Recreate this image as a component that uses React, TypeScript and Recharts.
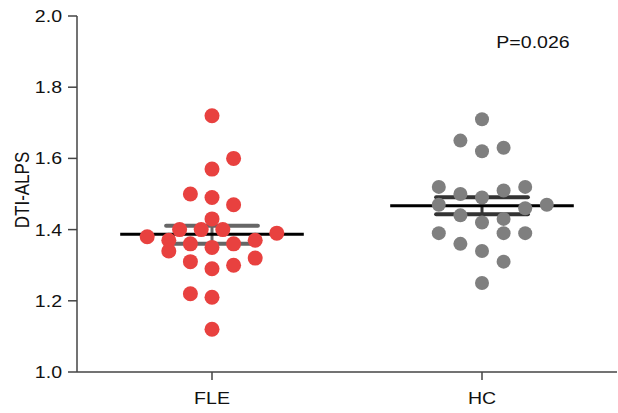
import {
  ScatterChart,
  Scatter,
  XAxis,
  YAxis,
  ReferenceLine,
  Customized,
} from "recharts";

// groups and tick labels
const groups = ["FLE", "HC"];
const yTicks = [1.0, 1.2, 1.4, 1.6, 1.8, 2.0];

// FLE: DTI-ALPS values and horizontal jitter (in category units)
const fleValues = [
  1.72, 1.6, 1.57, 1.5, 1.49, 1.47, 1.43, 1.4, 1.4, 1.4, 1.38, 1.39, 1.37,
  1.36, 1.35, 1.36, 1.37, 1.34, 1.31, 1.29, 1.3, 1.32, 1.22, 1.21, 1.12,
];
const fleJitter = [
  0, 0.08, 0, -0.08, 0, 0.08, 0, -0.12, -0.04, 0.04, -0.24, 0.24, -0.16,
  -0.08, 0, 0.08, 0.16, -0.16, -0.08, 0, 0.08, 0.16, -0.08, 0, 0,
];

// HC
const hcValues = [
  1.71, 1.65, 1.62, 1.63, 1.52, 1.5, 1.49, 1.51, 1.52, 1.47, 1.47, 1.46, 1.44,
  1.42, 1.43, 1.39, 1.39, 1.39, 1.36, 1.34, 1.31, 1.25,
];
const hcJitter = [
  0, -0.08, 0, 0.08, -0.16, -0.08, 0, 0.08, 0.16, -0.16, 0.24, 0.16, -0.08, 0,
  0.08, -0.16, 0.08, 0.16, -0.08, 0, 0.08, 0,
];

// mean and SEM bounds per group
const means = [1.387, 1.467];
const semLow = [1.36, 1.443];
const semHigh = [1.411, 1.491];
const pLabel = "P=0.026";

const fleData = fleValues.map((y, i) => ({ x: 1 + fleJitter[i], y }));
const hcData = hcValues.map((y, i) => ({ x: 2 + hcJitter[i], y }));

const font = "'Liberation Sans', Arial, Helvetica, sans-serif";
// the source figure is slightly stretched sideways
const stretch = 1.15;

const dot = (r: number, fill: string) => (p: any) =>
  <circle cx={p.cx} cy={p.cy} r={r} fill={fill} />;

const XTick = (p: any) => (
  <text
    transform={`translate(${p.x},${p.y + 22}) scale(${stretch},1)`}
    textAnchor="middle"
    fontSize={17}
    fontFamily={font}
    fill="#111"
  >
    {groups[Math.round(p.payload.value) - 1]}
  </text>
);

const YTick = (p: any) => (
  <text
    transform={`translate(${p.x - 4},${p.y + 6}) scale(${stretch},1)`}
    textAnchor="end"
    fontSize={17}
    fontFamily={font}
    fill="#111"
  >
    {p.payload.value.toFixed(1)}
  </text>
);

export default function App() {
  return (
    <div style={{ position: "absolute", left: 0, top: 0, background: "#fff" }}>
      <ScatterChart
        width={618}
        height={413}
        margin={{ top: 16, right: 1, bottom: 0, left: 0 }}
      >
        <XAxis
          type="number"
          dataKey="x"
          domain={[0.5, 2.5]}
          ticks={[1, 2]}
          height={41}
          tickSize={8}
          stroke="#444"
          strokeWidth={1.5}
          tick={<XTick />}
          allowDataOverflow
        />
        <YAxis
          type="number"
          dataKey="y"
          domain={[1, 2]}
          ticks={yTicks}
          width={77}
          tickSize={9}
          stroke="#444"
          strokeWidth={1.5}
          tick={<YTick />}
        />
        {groups.map((g, i) => (
          <ReferenceLine
            key={g + "hi"}
            segment={[
              { x: i + 1 - 0.17, y: semHigh[i] },
              { x: i + 1 + 0.17, y: semHigh[i] },
            ]}
            stroke={i === 0 ? "#666" : "#333"}
            strokeWidth={4}
            strokeLinecap="round"
            ifOverflow="visible"
          />
        ))}
        {groups.map((g, i) => (
          <ReferenceLine
            key={g + "lo"}
            segment={[
              { x: i + 1 - 0.17, y: semLow[i] },
              { x: i + 1 + 0.17, y: semLow[i] },
            ]}
            stroke={i === 0 ? "#666" : "#333"}
            strokeWidth={4}
            strokeLinecap="round"
            ifOverflow="visible"
          />
        ))}
        {groups.map((g, i) => (
          <ReferenceLine
            key={g + "stem"}
            segment={[
              { x: i + 1, y: semLow[i] },
              { x: i + 1, y: semHigh[i] },
            ]}
            stroke={i === 0 ? "#666" : "#333"}
            strokeWidth={3}
            ifOverflow="visible"
          />
        ))}
        <Scatter
          data={fleData}
          shape={dot(7.5, "#e8413f")}
          isAnimationActive={false}
        />
        <Scatter
          data={hcData}
          shape={dot(7, "#7f7f7f")}
          isAnimationActive={false}
        />
        {groups.map((g, i) => (
          <ReferenceLine
            key={g + "mean"}
            segment={[
              { x: i + 1 - 0.34, y: means[i] },
              { x: i + 1 + 0.34, y: means[i] },
            ]}
            stroke="#000"
            strokeWidth={3}
            ifOverflow="visible"
          />
        ))}
        <Customized
          component={() => (
            <g style={{ fontFamily: font }} fill="#111">
              <text
                transform="translate(22,190) rotate(-90) scale(1,1.15)"
                textAnchor="middle"
                dominantBaseline="central"
                fontSize={17}
              >
                DTI-ALPS
              </text>
              <text
                transform={`translate(533,48) scale(${stretch},1)`}
                textAnchor="middle"
                fontSize={17}
              >
                {pLabel}
              </text>
            </g>
          )}
        />
      </ScatterChart>
    </div>
  );
}
